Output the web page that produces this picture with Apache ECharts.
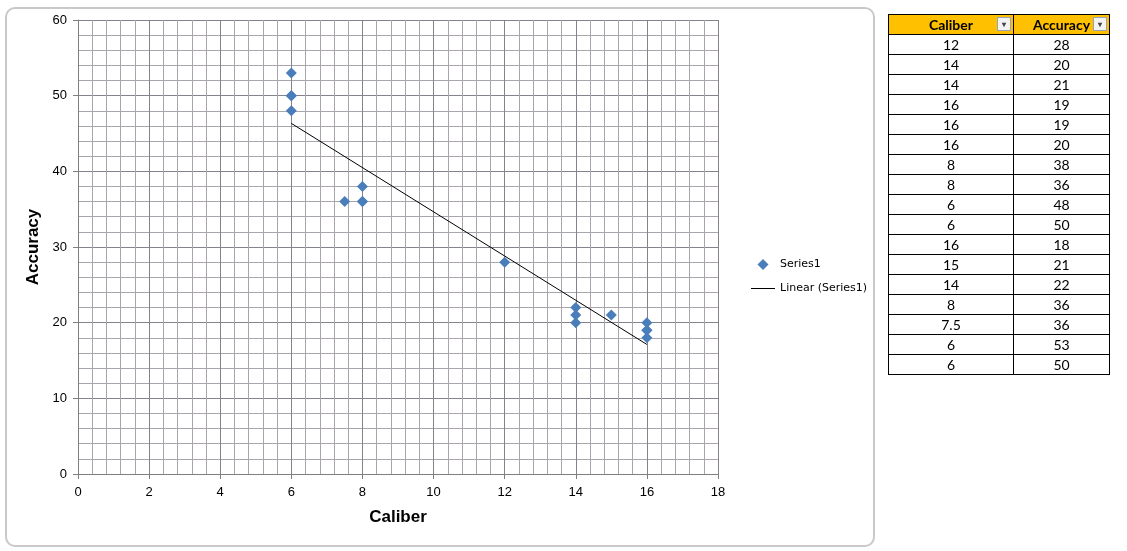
<!DOCTYPE html>
<html>
<head>
<meta charset="utf-8">
<script src="https://cdn.jsdelivr.net/npm/echarts@6/dist/echarts.min.js"></script>
<style>
  html, body { margin: 0; padding: 0; width: 1127px; height: 551px; background: #fff; overflow: hidden; }
  .frame { position: absolute; left: 5px; top: 7px; width: 866px; height: 536px;
    border: 2px solid #c9c9c9; border-radius: 10px; background: #fff; }
  #chart { position: absolute; left: 0; top: 0; width: 1127px; height: 551px; }
  table.data { position: absolute; left: 888px; top: 14px; border-collapse: collapse;
    font-family: Lato, 'Liberation Sans', sans-serif; font-size: 14px; }
  table.data td, table.data th { border: 1px solid #000; height: 19px; padding: 0; text-align: center; }
  table.data th { background: #ffc000; font-weight: bold; position: relative; }
  table.data td.c1, table.data th.c1 { width: 124px; }
  table.data td.c2, table.data th.c2 { width: 95px; }
  .dd { position: absolute; right: 2px; top: 2px; width: 14px; height: 14px; background: #f3f3f3;
    border: 1px solid #9aa3b5; box-sizing: border-box; font-size: 8px; line-height: 13px; color: #444; }
</style>
</head>
<body>
<div class="frame"></div>
<div id="chart"></div>
<table class="data" id="tbl"></table>
<script>
// 数据
const caliber = [12, 14, 14, 16, 16, 16, 8, 8, 6, 6, 16, 15, 14, 8, 7.5, 6, 6]
const accuracy = [28, 20, 21, 19, 19, 20, 38, 36, 48, 50, 18, 21, 22, 36, 36, 53, 50]

// 表格
const tbl = document.getElementById('tbl')
let html = '<tr><th class="c1">Caliber<span class="dd">&#9662;</span></th>' +
  '<th class="c2">Accuracy<span class="dd">&#9662;</span></th></tr>'
caliber.forEach((c, i) => {
  html += '<tr><td class="c1">' + c + '</td><td class="c2">' + accuracy[i] + '</td></tr>'
})
tbl.innerHTML = html

// 线性趋势线 (最小二乘)
const n = caliber.length
const mx = caliber.reduce((a, b) => a + b, 0) / n
const my = accuracy.reduce((a, b) => a + b, 0) / n
let sxy = 0
let sxx = 0
caliber.forEach((x, i) => {
  sxy += (x - mx) * (accuracy[i] - my)
  sxx += (x - mx) * (x - mx)
})
const slope = sxy / sxx
const intercept = my - slope * mx
const xMin = Math.min(...caliber)
const xMax = Math.max(...caliber)

const points = caliber.map((x, i) => [x, accuracy[i]])
const trend = [[xMin, intercept + slope * xMin], [xMax, intercept + slope * xMax]]

const chart = echarts.init(document.getElementById('chart'))
const labelStyle = { color: '#000', fontFamily: 'Liberation Sans', fontSize: 13 }
const nameStyle = { fontFamily: 'Liberation Sans', fontWeight: 'bold', fontSize: 17, color: '#000' }
const option = {
  animation: false,
  grid: { left: 78, top: 20, width: 640, height: 454 },
  xAxis: {
    type: 'value', min: 0, max: 18, interval: 2,
    name: 'Caliber', nameLocation: 'middle', nameGap: 35,
    nameTextStyle: nameStyle,
    axisLine: { show: true, lineStyle: { color: '#7f7f7f' } },
    axisTick: { show: true, length: 5, lineStyle: { color: '#7f7f7f' } },
    axisLabel: Object.assign({ margin: 12 }, labelStyle),
    splitLine: { show: true, lineStyle: { color: '#86828c', width: 1 } },
    minorTick: { show: false, splitNumber: 5 },
    minorSplitLine: { show: true, lineStyle: { color: '#aaa5ad', width: 1 } }
  },
  yAxis: {
    type: 'value', min: 0, max: 60, interval: 10,
    name: 'Accuracy', nameLocation: 'middle', nameGap: 31, nameRotate: 90,
    nameTextStyle: nameStyle,
    axisLine: { show: true, lineStyle: { color: '#7f7f7f' } },
    axisTick: { show: true, length: 5, lineStyle: { color: '#7f7f7f' } },
    axisLabel: Object.assign({ margin: 11 }, labelStyle),
    splitLine: { show: true, lineStyle: { color: '#86828c', width: 1 } },
    minorTick: { show: false, splitNumber: 5 },
    minorSplitLine: { show: true, lineStyle: { color: '#aaa5ad', width: 1 } }
  },
  legend: {
    orient: 'vertical', left: 746, top: 254, itemGap: 13, itemWidth: 24, itemHeight: 11,
    symbolKeepAspect: true,
    textStyle: { fontFamily: 'DejaVu Sans', fontSize: 11, color: '#000' },
    data: [
      { name: 'Series1', icon: 'path://M5,0 L10,5 L5,10 L0,5 Z' },
      { name: 'Linear (Series1)', icon: 'path://M0,0 L24,0 L24,1 L0,1 Z' }
    ]
  },
  series: [
    {
      name: 'Series1', type: 'scatter', data: points,
      symbol: 'diamond', symbolSize: 11,
      itemStyle: { color: '#4a7ebb', opacity: 1 }, z: 3
    },
    {
      name: 'Linear (Series1)', type: 'line', data: trend,
      symbol: 'none', lineStyle: { color: '#000', width: 1 }, itemStyle: { color: '#000' }, z: 2
    }
  ]
}
chart.setOption(option)
</script>
</body>
</html>
